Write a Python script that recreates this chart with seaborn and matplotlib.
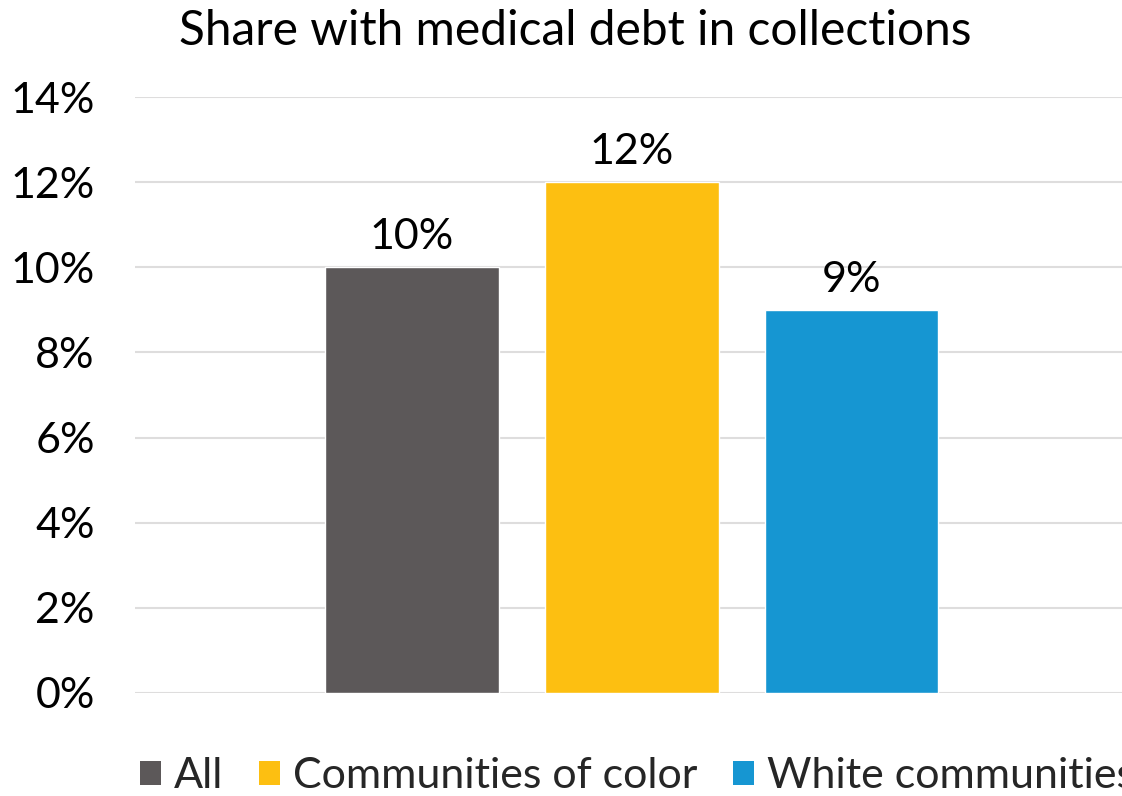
import matplotlib
matplotlib.use("Agg")
import matplotlib.pyplot as plt
from matplotlib.patches import Patch
from matplotlib.ticker import FuncFormatter, MultipleLocator
import pandas as pd
import seaborn as sns

groups = ["All", "Communities of color", "White communities"]
shares = [0.10, 0.12, 0.09]
colors = ["#5c5859", "#fdbf11", "#1696d2"]
title = "Share with medical debt in collections"

sns.set_theme(style="white")
plt.rcParams["font.family"] = ["Lato", "DejaVu Sans"]

df = pd.DataFrame({"group": groups, "share": shares})

fig = plt.figure(figsize=(11.22, 7.96), dpi=100)
ax = fig.add_axes([0.1203, 0.1294, 0.8797, 0.7487])

sns.barplot(data=df, x="group", y="share", hue="group", palette=colors,
            width=0.79, legend=False, ax=ax, saturation=1)

ax.set_ylim(0, 0.14)
ax.set_xlim(-1.26, 3.23)
ax.yaxis.set_major_locator(MultipleLocator(0.02))
ax.yaxis.set_major_formatter(FuncFormatter(lambda v, _: f"{v*100:.0f}%"))
ax.grid(axis="y", color="#dedddd", linewidth=1.5)
ax.set_axisbelow(True)
for s in ax.spines.values():
    s.set_visible(False)
ax.set_xticks([])
ax.set_xlabel("")
ax.set_ylabel("")
ax.tick_params(axis="y", labelsize=31, length=0, pad=29, colors="black")

for container in ax.containers:
    ax.bar_label(container, labels=[f"{v*100:.0f}%" for v in container.datavalues],
                 fontsize=31, padding=8, color="black")

fig.text(0.513, 0.961, title, fontsize=34.5, ha="center", va="center", color="black")

handles = [Patch(facecolor=c, edgecolor="none") for c in colors]
fig.legend(handles, groups, loc="lower left", bbox_to_anchor=(0.109, -0.021),
           ncol=3, frameon=False, fontsize=31, handlelength=0.5, handleheight=0.5,
           handletextpad=0.3, columnspacing=0.82, borderaxespad=0)

fig.savefig("out.png", dpi=100)
